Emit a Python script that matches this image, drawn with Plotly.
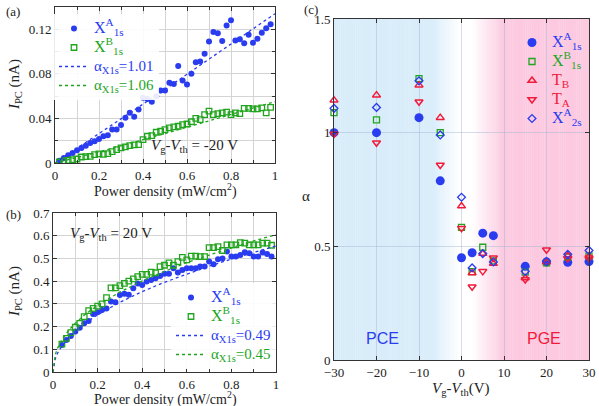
import plotly.graph_objects as go

# ---------------- data ----------------
# panel (a): Vg-Vth = -20 V
A_POWER = [0.02, 0.04, 0.06, 0.08, 0.10, 0.12, 0.14, 0.16, 0.18, 0.20,
           0.22, 0.24, 0.26, 0.28, 0.30, 0.32, 0.34, 0.36, 0.38, 0.40,
           0.42, 0.44, 0.46, 0.48, 0.50, 0.52, 0.54, 0.56, 0.58, 0.60,
           0.62, 0.64, 0.66, 0.68, 0.70, 0.72, 0.74, 0.76, 0.78, 0.80,
           0.82, 0.84, 0.86, 0.88, 0.90, 0.92, 0.94, 0.96, 0.98]
A_X1SA = [0.002, 0.0045, 0.007, 0.009, 0.0115, 0.0135, 0.0155, 0.018, 0.0195, 0.0215,
          0.024, 0.025, 0.030, 0.030, 0.034, 0.0405, 0.045, 0.0415, 0.048, 0.0585,
          0.0575, 0.055, 0.060, 0.065, 0.065, 0.072, 0.071, 0.087, 0.074, 0.0705,
          0.080, 0.0905, 0.091, 0.098, 0.109, 0.1175, 0.1165, 0.1095, 0.1235, 0.128,
          0.110, 0.111, 0.1075, 0.115, 0.108, 0.1115, 0.117, 0.121, 0.1245]
A_X1SB = [0.0009, 0.0018, 0.0024, 0.003, 0.0036, 0.0054, 0.0057, 0.006, 0.0075, 0.0081,
          0.0078, 0.0084, 0.0102, 0.012, 0.0135, 0.0144, 0.0156, 0.0162, 0.0165, 0.021,
          0.024, 0.0246, 0.0276, 0.0285, 0.030, 0.0315, 0.0324, 0.033, 0.0345, 0.035,
          0.037, 0.040, 0.039, 0.0435, 0.0465, 0.0435, 0.0444, 0.045, 0.0456, 0.0435,
          0.045, 0.0444, 0.049, 0.049, 0.0486, 0.0486, 0.0495, 0.045, 0.050]
A_FIT_X = [0, 0.25, 0.5, 0.75, 1.0]
A_FIT_A = [0, 0.033, 0.066, 0.100, 0.134]
A_FIT_B = [0, 0.0127, 0.0264, 0.0406, 0.055]

# panel (b): Vg-Vth = 20 V
B_POWER = [0.04, 0.06, 0.08, 0.10, 0.12, 0.14, 0.16, 0.18, 0.20,
           0.22, 0.24, 0.26, 0.28, 0.30, 0.32, 0.34, 0.36, 0.38, 0.40,
           0.42, 0.44, 0.46, 0.48, 0.50, 0.52, 0.54, 0.56, 0.58, 0.60,
           0.62, 0.64, 0.66, 0.68, 0.70, 0.72, 0.74, 0.76, 0.78, 0.80,
           0.82, 0.84, 0.86, 0.88, 0.90, 0.92, 0.94, 0.96, 0.98]
B_X1SA = [0.119, 0.141, 0.159, 0.178, 0.195, 0.215, 0.225, 0.255, 0.263,
          0.273, 0.28, 0.31, 0.307, 0.339, 0.344, 0.34, 0.369, 0.39, 0.383,
          0.398, 0.405, 0.413, 0.423, 0.432, 0.432, 0.457, 0.438, 0.449, 0.457,
          0.457, 0.457, 0.464, 0.464, 0.486, 0.474, 0.496, 0.50, 0.531, 0.508,
          0.508, 0.515, 0.527, 0.523, 0.508, 0.508, 0.526, 0.52, 0.508]
B_X1SB = [0.123, 0.148, 0.173, 0.197, 0.214, 0.244, 0.27, 0.28, 0.29,
          0.30, 0.327, 0.37, 0.37, 0.38, 0.39, 0.40, 0.41, 0.42, 0.43,
          0.43, 0.44, 0.437, 0.464, 0.47, 0.48, 0.47, 0.486, 0.505, 0.494,
          0.51, 0.51, 0.508, 0.508, 0.548, 0.548, 0.552, 0.535, 0.56, 0.56,
          0.56, 0.57, 0.567, 0.56, 0.56, 0.56, 0.567, 0.567, 0.558]
B_FIT_X = [0, 0.005, 0.01, 0.02, 0.04, 0.07, 0.1, 0.15, 0.2, 0.3, 0.4, 0.5, 0.6, 0.7, 0.8, 0.9, 1.0]
B_FIT_A = [0, 0.041, 0.058, 0.082, 0.115, 0.151, 0.180, 0.219, 0.252, 0.307, 0.354, 0.395, 0.432, 0.466, 0.497, 0.527, 0.555]
B_FIT_B = [0, 0.056, 0.076, 0.104, 0.142, 0.183, 0.215, 0.258, 0.293, 0.352, 0.401, 0.443, 0.481, 0.515, 0.547, 0.577, 0.605]

# panel (c): exponent alpha vs gate voltage
C_VG = [-30, -20, -10, -5, 0, 2.5, 5, 7.5, 15, 20, 25, 30]
C_X1SA = [1.0, 1.0, 1.066, 0.788, 0.450, 0.472, 0.558, 0.547, 0.412, 0.431, 0.430, 0.433]
C_X1SB = [1.088, 1.056, 1.238, 1.0, 0.583, 0.389, 0.496, 0.436, 0.387, 0.427, 0.453, 0.458]
C_TB = [1.143, 1.165, 1.209, 1.066, 0.677, 0.383, 0.468, 0.424, 0.361, 0.431, 0.460, 0.456]
C_TA = [0.994, 0.956, 1.136, 0.858, 0.580, 0.322, 0.390, 0.450, 0.354, 0.485, 0.446, 0.450]
C_X2SA = [1.107, 1.111, 1.228, 0.990, 0.716, 0.405, 0.468, 0.431, 0.390, 0.434, 0.465, 0.482]

# ---------------- style ----------------
W, H = 599, 406
BLUE = "#2a3cf0"
GREEN = "#22a51e"
RED = "#f21a3a"
SERIF = "Liberation Serif"
GRID = "#d4d4d4"


def px_x(p):
    return p / W


def px_y(p):
    return 1 - p / H


def col(text, c, size=15):
    return f'<span style="color:{c};font-size:{size}px">{text}</span>'


X1SA_LBL = "X<sup>A</sup><sub>1s</sub>"
X1SB_LBL = "X<sup>B</sup><sub>1s</sub>"

fig = go.Figure()

# panel (a)
fig.add_trace(go.Scatter(x=A_POWER, y=A_X1SA, mode="markers", xaxis="x", yaxis="y",
                         marker=dict(color=BLUE, size=6), name=col(X1SA_LBL, BLUE, 16), legend="legend"))
fig.add_trace(go.Scatter(x=A_POWER, y=A_X1SB, mode="markers", xaxis="x", yaxis="y",
                         marker=dict(color=GREEN, size=5.5, symbol="square-open", line=dict(width=1.3)),
                         name=col(X1SB_LBL, GREEN, 16), legend="legend"))
fig.add_trace(go.Scatter(x=A_FIT_X, y=A_FIT_A, mode="lines", xaxis="x", yaxis="y",
                         line=dict(color=BLUE, width=1.3, dash="dot"),
                         name=col("α<sub>X1s</sub>=1.01", BLUE), legend="legend"))
fig.add_trace(go.Scatter(x=A_FIT_X, y=A_FIT_B, mode="lines", xaxis="x", yaxis="y",
                         line=dict(color=GREEN, width=1.3, dash="dot"),
                         name=col("α<sub>X1s</sub>=1.06", GREEN), legend="legend"))

# panel (b)
fig.add_trace(go.Scatter(x=B_POWER, y=B_X1SA, mode="markers", xaxis="x2", yaxis="y2",
                         marker=dict(color=BLUE, size=6), name=col(X1SA_LBL, BLUE, 16), legend="legend2"))
fig.add_trace(go.Scatter(x=B_POWER, y=B_X1SB, mode="markers", xaxis="x2", yaxis="y2",
                         marker=dict(color=GREEN, size=5.5, symbol="square-open", line=dict(width=1.3)),
                         name=col(X1SB_LBL, GREEN, 16), legend="legend2"))
fig.add_trace(go.Scatter(x=B_FIT_X, y=B_FIT_A, mode="lines", xaxis="x2", yaxis="y2",
                         line=dict(color=BLUE, width=1.3, dash="dot"),
                         name=col("α<sub>X1s</sub>=0.49", BLUE), legend="legend2"))
fig.add_trace(go.Scatter(x=B_FIT_X, y=B_FIT_B, mode="lines", xaxis="x2", yaxis="y2",
                         line=dict(color=GREEN, width=1.3, dash="dot"),
                         name=col("α<sub>X1s</sub>=0.45", GREEN), legend="legend2"))

# panel (c)
c_series = [
    (C_X1SA, col(X1SA_LBL, BLUE, 16), dict(color=BLUE, size=9, symbol="circle")),
    (C_X1SB, col(X1SB_LBL, GREEN, 16), dict(color=GREEN, size=6, symbol="square-open", line=dict(width=1.3))),
    (C_TB, col("T<sub>B</sub>", RED, 16), dict(color=RED, size=7, symbol="triangle-up-open", line=dict(width=1.5))),
    (C_TA, col("T<sub>A</sub>", RED, 16), dict(color=RED, size=7, symbol="triangle-down-open", line=dict(width=1.5))),
    (C_X2SA, col("X<sup>A</sup><sub>2s</sub>", BLUE, 16), dict(color=BLUE, size=6, symbol="diamond-open", line=dict(width=1.3))),
]
for vals, nm, mk in c_series:
    fig.add_trace(go.Scatter(x=C_VG, y=vals, mode="markers", xaxis="x3", yaxis="y3",
                             marker=mk, name=nm, legend="legend3", cliponaxis=False))

# gradient background for panel (c)
blue_rgb = (216, 236, 250)
pink_rgb = (252, 201, 224)
shapes = []
step = 0.5
v = -30.0
while v < 30:
    mid = v + step / 2
    if mid <= -7:
        c = blue_rgb
    elif mid < -0.5:
        t = (mid + 7) / 6.5
        c = tuple(int(round(b + (255 - b) * t)) for b in blue_rgb)
    elif mid < 2.5:
        c = (255, 255, 255)
    elif mid < 10:
        t = (mid - 2.5) / 7.5
        c = tuple(int(round(255 + (p - 255) * t)) for p in pink_rgb)
    else:
        c = pink_rgb
    shapes.append(dict(type="rect", xref="x3", yref="y3 domain", x0=v, x1=v + step + 0.05,
                       y0=0, y1=1, fillcolor=f"rgb{c}", line=dict(width=0), layer="below"))
    v += step

axis_common = dict(showline=True, linecolor="#333", linewidth=1, mirror="ticks", ticks="inside",
                   ticklen=4, tickcolor="#333", showgrid=True, gridcolor=GRID, gridwidth=1,
                   zeroline=False, automargin=False,
                   tickfont=dict(family=SERIF, size=13, color="#222"))

dom_a_x = [px_x(55), px_x(275)]
dom_a_y = [px_y(163), px_y(7)]
dom_b_x = [px_x(53), px_x(276)]
dom_b_y = [px_y(372), px_y(213)]
dom_c_x = [px_x(334), px_x(589)]
dom_c_y = [px_y(360), px_y(19)]

leg_common = dict(xanchor="left", yanchor="top", font=dict(family=SERIF, size=11),
                  tracegroupgap=0, itemwidth=30, borderwidth=0)

fig.update_layout(
    width=W, height=H, margin=dict(l=0, r=0, t=0, b=0, autoexpand=False),
    paper_bgcolor="white", plot_bgcolor="white",
    font=dict(family=SERIF, size=13, color="#222"),
    xaxis=dict(domain=dom_a_x, anchor="y", range=[0, 1], dtick=0.2, tick0=0,
               minor=dict(dtick=0.1, showgrid=True, gridcolor=GRID, ticks="inside", ticklen=3, tickcolor="#333"),
               **axis_common),
    yaxis=dict(domain=dom_a_y, anchor="x", range=[0, 0.14], dtick=0.04, tick0=0,
               minor=dict(dtick=0.02, showgrid=True, gridcolor=GRID, ticks="inside", ticklen=3, tickcolor="#333"),
               **axis_common),
    xaxis2=dict(domain=dom_b_x, anchor="y2", range=[0, 1], dtick=0.2, tick0=0,
                minor=dict(dtick=0.1, showgrid=True, gridcolor=GRID, ticks="inside", ticklen=3, tickcolor="#333"),
                **axis_common),
    yaxis2=dict(domain=dom_b_y, anchor="x2", range=[0, 0.7], dtick=0.1, tick0=0, **axis_common),
    xaxis3=dict(domain=dom_c_x, anchor="y3", range=[-30, 30], dtick=10, tick0=0,
                **{**axis_common, "gridcolor": "rgba(160,180,210,0.45)"}),
    yaxis3=dict(domain=dom_c_y, anchor="x3", range=[0, 1.5], dtick=0.5, tick0=0,
                **{**axis_common, "gridcolor": "rgba(160,180,210,0.45)"}),
    shapes=shapes,
    legend=dict(x=px_x(54), y=px_y(14), bgcolor="rgba(255,255,255,0.9)", **leg_common),
    legend2=dict(x=px_x(171), y=px_y(283), bgcolor="rgba(255,255,255,0.9)", **leg_common),
    legend3=dict(x=px_x(512), y=px_y(28), bgcolor="rgba(255,255,255,0)", **leg_common),
)

ann = [
    dict(text="(a)", x=px_x(4), y=px_y(11), xanchor="left", yanchor="middle", font=dict(size=13)),
    dict(text="(b)", x=px_x(4), y=px_y(215), xanchor="left", yanchor="middle", font=dict(size=13)),
    dict(text="(c)", x=px_x(302), y=px_y(10), xanchor="left", yanchor="middle", font=dict(size=13)),
    dict(text="<i>V</i><sub>g</sub>-<i>V</i><sub>th</sub> = -20 V", x=px_x(195), y=px_y(146),
         xanchor="center", yanchor="middle", font=dict(size=15)),
    dict(text="<i>V</i><sub>g</sub>-<i>V</i><sub>th</sub> = 20 V", x=px_x(111), y=px_y(234),
         xanchor="center", yanchor="middle", font=dict(size=15)),
    dict(text="Power density (mW/cm<sup>2</sup>)", x=px_x(165), y=px_y(190), xanchor="center",
         yanchor="middle", font=dict(size=14)),
    dict(text="Power density (mW/cm<sup>2</sup>)", x=px_x(165), y=px_y(398), xanchor="center",
         yanchor="middle", font=dict(size=14)),
    dict(text="<i>I</i><sub>PC</sub> (nA)", x=px_x(15), y=px_y(85), textangle=-90, xanchor="center",
         yanchor="middle", font=dict(size=15)),
    dict(text="<i>I</i><sub>PC</sub> (nA)", x=px_x(15), y=px_y(292), textangle=-90, xanchor="center",
         yanchor="middle", font=dict(size=15)),
    dict(text="α", x=px_x(306), y=px_y(196), xanchor="center", yanchor="middle", font=dict(size=15)),
    dict(text="<i>V</i><sub>g</sub>-<i>V</i><sub>th</sub>(V)", x=px_x(461), y=px_y(389),
         xanchor="center", yanchor="middle", font=dict(size=15)),
    dict(text="PCE", x=-18.7, y=0.096, xref="x3", yref="y3", xanchor="center", yanchor="middle",
         font=dict(family="Liberation Sans", size=16, color=BLUE)),
    dict(text="PGE", x=19.4, y=0.096, xref="x3", yref="y3", xanchor="center", yanchor="middle",
         font=dict(family="Liberation Sans", size=16, color=RED)),
]
for a in ann:
    a.setdefault("xref", "paper")
    a.setdefault("yref", "paper")
    a["showarrow"] = False
    fig.add_annotation(**a)

fig.write_html("out.html", config={"displayModeBar": False},
               post_script="document.body.style.margin='0';document.body.style.overflow='hidden';")
